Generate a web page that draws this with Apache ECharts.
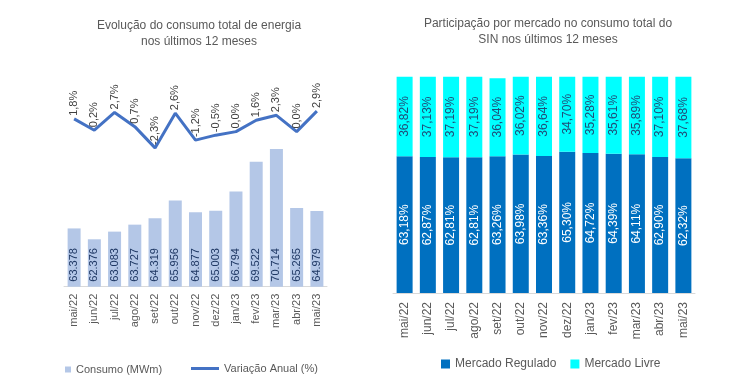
<!DOCTYPE html>
<html>
<head>
<meta charset="utf-8">
<script src="https://cdn.jsdelivr.net/npm/echarts@6/dist/echarts.min.js"></script>
<style>html,body{margin:0;padding:0;background:#fff}#c{width:756px;height:384px}</style>
</head>
<body>
<div id="c"></div>
<script>
const months = ['mai/22','jun/22','jul/22','ago/22','set/22','out/22','nov/22','dez/22','jan/23','fev/23','mar/23','abr/23','mai/23'];
const consumo = [63378, 62376, 63083, 63727, 64319, 65956, 64877, 65003, 66794, 69522, 70714, 65265, 64979];
const variacao = [1.8, 0.2, 2.7, 0.7, -2.3, 2.6, -1.2, -0.5, 0.0, 1.6, 2.3, 0.0, 2.9];
const regulado = [63.18, 62.87, 62.81, 62.81, 63.26, 63.98, 63.36, 65.30, 64.72, 64.39, 64.11, 62.90, 62.32];
const livre = [36.82, 37.13, 37.19, 37.19, 36.04, 36.02, 36.64, 34.70, 35.28, 35.61, 35.89, 37.10, 37.68];

const FONT = 'Liberation Sans';
const fmtThousands = v => String(v).replace(/\B(?=(\d{3})+(?!\d))/g, '.');
const fmtPct = v => v.toFixed(1).replace('.', ',') + '%';
const fmtPct2 = v => v.toFixed(2).replace('.', ',') + '%';

const chart = echarts.init(document.getElementById('c'), null, {renderer: 'canvas'});
chart.setOption({
  animation: false,
  textStyle: {fontFamily: FONT},
  title: [
    {text: 'Evolução do consumo total de energia\nnos últimos 12 meses', left: 194, top: 13, textAlign: 'center',
     textStyle: {fontFamily: FONT, fontSize: 12, fontWeight: 'normal', color: '#595959', lineHeight: 16}},
    {text: 'Participação por mercado no consumo total do\nSIN nos últimos 12 meses', left: 543, top: 11, textAlign: 'center',
     textStyle: {fontFamily: FONT, fontSize: 12, fontWeight: 'normal', color: '#595959', lineHeight: 16}}
  ],
  legend: [
    {data: ['Consumo (MWm)'], left: 60, top: 359, itemWidth: 6, itemHeight: 6, icon: 'rect',
     textStyle: {fontFamily: FONT, fontSize: 11, color: '#595959'}},
    {data: ['Variação Anual (%)'], left: 186, top: 358, itemWidth: 28, itemHeight: 3, icon: 'rect',
     textStyle: {fontFamily: FONT, fontSize: 11, color: '#595959'}},
    {data: ['Mercado Regulado', 'Mercado Livre'], left: 436, top: 353, itemWidth: 9, itemHeight: 9, icon: 'rect', itemGap: 14,
     textStyle: {fontFamily: FONT, fontSize: 12, color: '#595959'}}
  ],
  grid: [
    {left: 64, top: 70, width: 263, height: 216.7},
    {left: 393, top: 76.7, width: 302, height: 216.3}
  ],
  xAxis: [
    {type: 'category', gridIndex: 0, data: months,
     axisLine: {onZero: false, lineStyle: {color: '#d9d9d9'}}, axisTick: {show: false},
     axisLabel: {rotate: 90, color: '#595959', fontSize: 11, fontFamily: FONT, margin: 7}},
    {type: 'category', gridIndex: 1, data: months,
     axisLine: {onZero: false, lineStyle: {color: '#d9d9d9'}}, axisTick: {show: false},
     axisLabel: {rotate: 90, color: '#595959', fontSize: 12, fontFamily: FONT, margin: 9}}
  ],
  yAxis: [
    {type: 'value', gridIndex: 0, min: 58000, max: 78000, show: false, splitLine: {show: false}},
    {type: 'value', gridIndex: 0, min: -21.9, max: 8.7, show: false, splitLine: {show: false}},
    {type: 'value', gridIndex: 1, min: 0, max: 100, show: false, splitLine: {show: false}}
  ],
  series: [
    {name: 'Consumo (MWm)', type: 'bar', xAxisIndex: 0, yAxisIndex: 0, data: consumo, barWidth: 13,
     itemStyle: {color: '#b4c7e7'},
     label: {show: true, position: 'insideBottom', rotate: 90, align: 'left', verticalAlign: 'middle', distance: 5,
             formatter: p => fmtThousands(p.value), color: '#1f3864', fontSize: 11, fontFamily: FONT}},
    {name: 'Variação Anual (%)', type: 'line', xAxisIndex: 0, yAxisIndex: 1, data: variacao,
     symbol: 'circle', symbolSize: 0, showSymbol: true, lineStyle: {color: '#4472c4', width: 3}, itemStyle: {color: '#4472c4'},
     label: {show: true, position: 'top', rotate: 90, align: 'left', verticalAlign: 'middle', distance: 3,
             formatter: p => fmtPct(p.value), color: '#404040', fontSize: 11, fontFamily: FONT}},
    {name: 'Mercado Regulado', type: 'bar', stack: 'm', xAxisIndex: 1, yAxisIndex: 2, data: regulado, barWidth: 16,
     itemStyle: {color: '#0070c0'},
     label: {show: true, position: 'inside', rotate: 90, formatter: p => fmtPct2(p.value), color: '#ffffff', fontSize: 12, fontFamily: FONT}},
    {name: 'Mercado Livre', type: 'bar', stack: 'm', xAxisIndex: 1, yAxisIndex: 2, data: livre, barWidth: 16,
     itemStyle: {color: '#00ffff'},
     label: {show: true, position: 'inside', rotate: 90, formatter: p => fmtPct2(p.value), color: '#1f4e79', fontSize: 12, fontFamily: FONT}}
  ]
});
</script>
</body>
</html>
